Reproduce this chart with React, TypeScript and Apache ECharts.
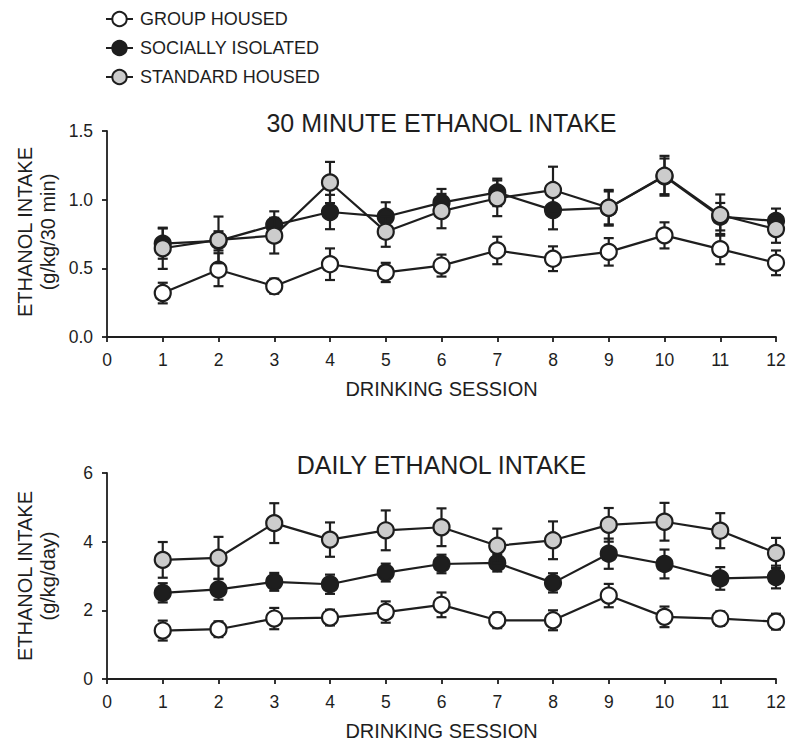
import React, { useEffect, useRef } from "react";
import * as echarts from "echarts";

const sessions = [1, 2, 3, 4, 5, 6, 7, 8, 9, 10, 11, 12];
const xTicks = [0, 1, 2, 3, 4, 5, 6, 7, 8, 9, 10, 11, 12];

// 30 minute intake (g/kg/30 min)
const min30Group = [0.32, 0.49, 0.37, 0.53, 0.47, 0.52, 0.63, 0.57, 0.62, 0.74, 0.64, 0.54];
const min30GroupSem = [0.075, 0.12, 0.055, 0.115, 0.07, 0.08, 0.1, 0.09, 0.1, 0.095, 0.11, 0.09];
const min30Isolated = [0.68, 0.7, 0.815, 0.91, 0.876, 0.978, 1.053, 0.924, 0.94, 1.17, 0.876, 0.845];
const min30IsolatedSem = [0.11, 0.07, 0.1, 0.125, 0.105, 0.1, 0.1, 0.14, 0.12, 0.13, 0.1, 0.09];
const min30Standard = [0.646, 0.707, 0.738, 1.125, 0.767, 0.917, 1.01, 1.07, 0.941, 1.174, 0.888, 0.786];
const min30StandardSem = [0.15, 0.17, 0.13, 0.15, 0.11, 0.125, 0.13, 0.17, 0.13, 0.145, 0.15, 0.1];

// daily intake (g/kg/day)
const dailyGroup = [1.41, 1.45, 1.76, 1.79, 1.95, 2.16, 1.71, 1.71, 2.43, 1.81, 1.76, 1.67];
const dailyGroupSem = [0.29, 0.23, 0.31, 0.23, 0.31, 0.36, 0.23, 0.29, 0.34, 0.3, 0.21, 0.23];
const dailyIsolated = [2.51, 2.61, 2.83, 2.76, 3.1, 3.35, 3.38, 2.8, 3.65, 3.35, 2.93, 2.97];
const dailyIsolatedSem = [0.28, 0.3, 0.26, 0.28, 0.26, 0.27, 0.25, 0.28, 0.44, 0.42, 0.33, 0.33];
const dailyStandard = [3.47, 3.53, 4.54, 4.06, 4.33, 4.42, 3.88, 4.04, 4.49, 4.58, 4.32, 3.67];
const dailyStandardSem = [0.52, 0.61, 0.58, 0.5, 0.58, 0.55, 0.5, 0.55, 0.49, 0.55, 0.51, 0.44];

const groupNames = ["GROUP HOUSED", "SOCIALLY ISOLATED", "STANDARD HOUSED"];
const groupFills = ["#ffffff", "#1e1e1e", "#cccccc"];

const titles = ["30 MINUTE ETHANOL INTAKE", "DAILY ETHANOL INTAKE"];
const yNames = [
  ["ETHANOL INTAKE", "(g/kg/30 min)"],
  ["ETHANOL INTAKE", "(g/kg/day)"],
];
const xName = "DRINKING SESSION";

const INK = "#1e1e1e";
const FONT = "'Liberation Sans', Arial, Helvetica, sans-serif";

export default function App() {
  const ref = useRef<HTMLDivElement>(null);

  useEffect(() => {
    document.body.style.margin = "0";
    if (!ref.current) return;
    const chart = echarts.init(ref.current, undefined, { renderer: "svg" });

    const grids = [
      { left: 107, top: 131, width: 669, height: 206 },
      { left: 107, top: 473, width: 669, height: 206 },
    ];

    const panels = [
      {
        means: [min30Group, min30Isolated, min30Standard],
        sems: [min30GroupSem, min30IsolatedSem, min30StandardSem],
      },
      {
        means: [dailyGroup, dailyIsolated, dailyStandard],
        sems: [dailyGroupSem, dailyIsolatedSem, dailyStandardSem],
      },
    ];

    const errorRender = (params: any, api: any) => {
      const x = api.value(0);
      const m = api.value(1);
      const s = api.value(2);
      const top = api.coord([x, m + s]);
      const bot = api.coord([x, m - s]);
      const hw = 5;
      const style = { stroke: INK, lineWidth: 2.2, fill: "none" };
      return {
        type: "group",
        children: [
          { type: "line", shape: { x1: top[0], y1: top[1], x2: bot[0], y2: bot[1] }, style },
          { type: "line", shape: { x1: top[0] - hw, y1: top[1], x2: top[0] + hw, y2: top[1] }, style },
          { type: "line", shape: { x1: bot[0] - hw, y1: bot[1], x2: bot[0] + hw, y2: bot[1] }, style },
        ],
      };
    };

    const series: any[] = [];
    panels.forEach((p, pi) => {
      p.means.forEach((vals, gi) => {
        series.push({
          type: "custom",
          xAxisIndex: pi,
          yAxisIndex: pi,
          renderItem: errorRender,
          encode: { x: 0, y: 1 },
          data: sessions.map((s, i) => [s, vals[i], p.sems[gi][i]]),
          z: 2 + gi * 2,
          silent: true,
        });
        series.push({
          type: "line",
          name: groupNames[gi],
          xAxisIndex: pi,
          yAxisIndex: pi,
          data: sessions.map((s, i) => [s, vals[i]]),
          symbol: "circle",
          symbolSize: 16,
          lineStyle: { color: INK, width: 2.2 },
          itemStyle: { color: groupFills[gi], borderColor: INK, borderWidth: 2.2, opacity: 1 },
          z: 3 + gi * 2,
          silent: true,
        });
      });
    });

    const xAxes = [0, 1].map((i) => ({
      type: "value",
      gridIndex: i,
      min: 0,
      max: 12,
      interval: 1,
      splitLine: { show: false },
      axisLine: { show: true, onZero: false, lineStyle: { color: INK, width: 1.8 } },
      axisTick: { show: true, inside: false, length: 5, lineStyle: { color: INK, width: 1.8 } },
      axisLabel: {
        color: INK,
        fontSize: 17.5,
        fontFamily: FONT,
        margin: 14,
        formatter: (v: number) => (xTicks.includes(v) ? String(v) : ""),
      },
    }));

    const yAxes = [
      { max: 1.5, interval: 0.5, dec: 1 },
      { max: 6, interval: 2, dec: 0 },
    ].map((c, i) => ({
      type: "value",
      gridIndex: i,
      min: 0,
      max: c.max,
      interval: c.interval,
      splitLine: { show: false },
      axisLine: { show: true, onZero: false, lineStyle: { color: INK, width: 1.8 } },
      axisTick: { show: true, inside: false, length: 5, lineStyle: { color: INK, width: 1.8 } },
      axisLabel: {
        color: INK,
        fontSize: 17.5,
        fontFamily: FONT,
        margin: 14,
        formatter: (v: number) => v.toFixed(c.dec),
      },
    }));

    const textStyle = (size: number) => ({
      fill: INK,
      fontSize: size,
      fontFamily: FONT,
      textAlign: "center",
      textVerticalAlign: "middle",
    });

    const graphic: any[] = [];
    const titleY = [123, 465];
    const xNameY = [389, 731];
    const yMid = [232, 576];
    [0, 1].forEach((i) => {
      graphic.push({ type: "text", x: 441.5, y: titleY[i], style: { text: titles[i], ...textStyle(25) } });
      graphic.push({ type: "text", x: 441.5, y: xNameY[i], style: { text: xName, ...textStyle(20) } });
      graphic.push({
        type: "text",
        x: 25,
        y: yMid[i],
        rotation: Math.PI / 2,
        style: { text: yNames[i][0], ...textStyle(20) },
      });
      graphic.push({
        type: "text",
        x: 48,
        y: yMid[i],
        rotation: Math.PI / 2,
        style: { text: yNames[i][1], ...textStyle(20) },
      });
    });

    chart.setOption({
      animation: false,
      backgroundColor: "#ffffff",
      grid: grids,
      xAxis: xAxes,
      yAxis: yAxes,
      legend: {
        data: groupNames,
        orient: "vertical",
        left: 100,
        top: 5,
        itemWidth: 27,
        itemHeight: 18,
        itemGap: 11,
        selectedMode: false,
        textStyle: { color: INK, fontSize: 18, fontFamily: FONT, padding: [0, 0, 0, 2] },
      },
      graphic,
      series,
    });

    return () => chart.dispose();
  }, []);

  return <div ref={ref} style={{ width: 791, height: 748 }} />;
}
